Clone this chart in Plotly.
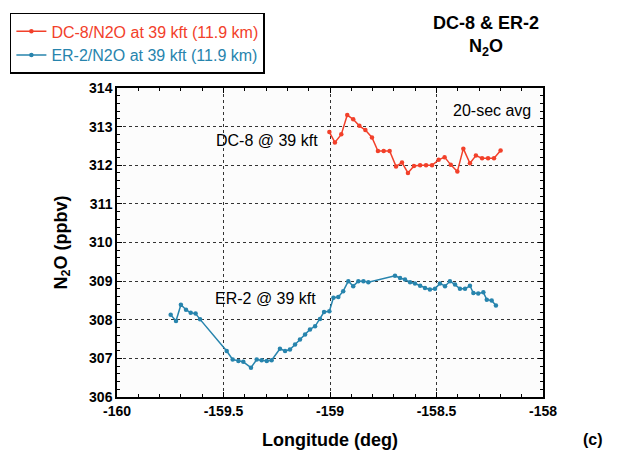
import plotly.graph_objects as go

# DC-8 N2O (ppbv) vs longitude
dc8_lon = [-159.003, -158.977, -158.947, -158.919, -158.891, -158.862, -158.834, -158.803,
           -158.775, -158.748, -158.720, -158.690, -158.662, -158.634, -158.606, -158.577,
           -158.549, -158.521, -158.490, -158.462, -158.433, -158.402, -158.374, -158.343,
           -158.315, -158.286, -158.258, -158.230, -158.199]
dc8_n2o = [312.86, 312.59, 312.80, 313.30, 313.19, 313.02, 312.91, 312.72,
           312.37, 312.37, 312.37, 311.97, 312.07, 311.80, 311.98, 312.00,
           312.00, 312.00, 312.14, 312.21, 312.01, 311.84, 312.43, 312.05,
           312.25, 312.18, 312.18, 312.18, 312.38]

# ER-2 N2O (ppbv) vs longitude
er2_lon = [-159.748, -159.723, -159.700, -159.676, -159.654, -159.631, -159.610,
           -159.485, -159.457, -159.430, -159.407, -159.371, -159.344, -159.321, -159.297,
           -159.274, -159.235, -159.211, -159.188, -159.164, -159.141, -159.117, -159.094,
           -159.070, -159.047, -159.028, -159.003, -158.984, -158.961, -158.938, -158.914,
           -158.891, -158.867, -158.843, -158.820,
           -158.695, -158.671, -158.648, -158.624, -158.601, -158.577, -158.554, -158.531,
           -158.507, -158.484, -158.460, -158.437, -158.413, -158.390, -158.366, -158.343,
           -158.327, -158.304, -158.280, -158.264, -158.241, -158.221]
er2_n2o = [308.13, 307.97, 308.39, 308.26, 308.18, 308.16, 308.01,
           307.19, 306.97, 306.93, 306.91, 306.76, 306.97, 306.95, 306.93,
           306.95, 307.25, 307.19, 307.23, 307.36, 307.49, 307.62, 307.75,
           307.83, 308.02, 308.20, 308.22, 308.57, 308.59, 308.74, 309.00,
           308.87, 309.00, 309.00, 308.97,
           309.14, 309.08, 309.04, 308.97, 308.94, 308.88, 308.82, 308.78,
           308.80, 308.94, 308.87, 309.00, 308.91, 308.80, 308.80, 308.88,
           308.69, 308.68, 308.71, 308.52, 308.50, 308.37]

x_ticks = [-160, -159.5, -159, -158.5, -158]
x_tick_labels = ["-160", "-159.5", "-159", "-158.5", "-158"]
y_ticks = [306, 307, 308, 309, 310, 311, 312, 313, 314]

RED = "#f2402a"
BLUE = "#2784ad"
FONT = "Liberation Sans, Arial, Helvetica, sans-serif"

fig = go.Figure()
fig.add_trace(go.Scatter(
    x=dc8_lon, y=dc8_n2o, mode="lines+markers",
    name=f"<span style='color:{RED}'>DC-8/N2O at 39 kft (11.9 km)</span>",
    line=dict(color=RED, width=1.5), marker=dict(color=RED, size=4.5)))
fig.add_trace(go.Scatter(
    x=er2_lon, y=er2_n2o, mode="lines+markers",
    name=f"<span style='color:{BLUE}'>ER-2/N2O at 39 kft (11.9 km)</span>",
    line=dict(color=BLUE, width=1.5), marker=dict(color=BLUE, size=4.5)))

axis_common = dict(
    showline=True, linecolor="black", linewidth=1.5, mirror="allticks",
    ticks="inside", ticklen=5, tickcolor="black", tickwidth=1,
    showgrid=True, gridcolor="#333333", griddash="dot", gridwidth=1,
    zeroline=False,
    tickfont=dict(family=FONT, size=14, color="black", weight="bold"),
)

fig.update_xaxes(
    range=[-160, -158], tickvals=x_ticks, ticktext=x_tick_labels,
    minor=dict(dtick=0.1, ticks="inside", ticklen=3, tickcolor="black", showgrid=False),
    title=dict(text="Longitude (deg)", font=dict(family=FONT, size=18, color="black", weight="bold"),
               standoff=16),
    **axis_common)
fig.update_yaxes(
    range=[306, 314], tickvals=y_ticks,
    minor=dict(dtick=0.2, ticks="inside", ticklen=3, tickcolor="black", showgrid=False),
    **axis_common)

# y-axis title
fig.add_annotation(x=-0.129, y=0.5, xref="paper", yref="paper",
                   text="<b>N<sub>2</sub>O (ppbv)</b>", textangle=-90, showarrow=False,
                   xanchor="center", yanchor="middle",
                   font=dict(family=FONT, size=18, color="black"))
fig.add_annotation(x=-158.24, y=313.43, xref="x", yref="y", text="20-sec avg",
                   showarrow=False, font=dict(family=FONT, size=16, color="black"))
fig.add_annotation(x=-159.047, y=312.65, xref="x", yref="y", text="DC-8 @ 39 kft",
                   showarrow=False, xanchor="right", font=dict(family=FONT, size=16, color="black"))
fig.add_annotation(x=-159.055, y=308.56, xref="x", yref="y", text="ER-2 @ 39 kft",
                   showarrow=False, xanchor="right", font=dict(family=FONT, size=16, color="black"))
fig.add_annotation(x=0.995, y=1.25, xref="paper", yref="paper",
                   text="<b>DC-8 &amp; ER-2</b><br><b>N<sub>2</sub>O</b>",
                   showarrow=False, align="center", yanchor="top",
                   font=dict(family=FONT, size=18, color="black"))
fig.add_annotation(x=1.146, y=-0.139, xref="paper", yref="paper", text="<b>(c)</b>",
                   showarrow=False, yanchor="middle", font=dict(family=FONT, size=16, color="black"))

fig.update_layout(
    width=630, height=446,
    margin=dict(l=109, r=95, t=80, b=57, autoexpand=False),
    paper_bgcolor="white", plot_bgcolor="#fcfcfc",
    showlegend=True,
    legend=dict(xref="container", yref="container", x=0.003, y=0.989,
                xanchor="left", yanchor="top",
                bgcolor="white", bordercolor="black", borderwidth=1.5,
                font=dict(family=FONT, size=16), tracegroupgap=0,
                itemwidth=30),
)

fig.write_html("out.html")
